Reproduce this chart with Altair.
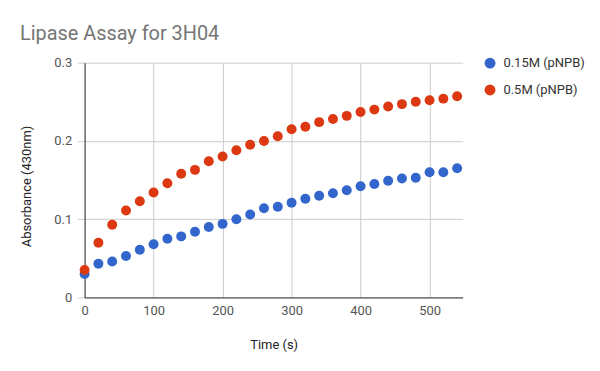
import altair as alt
import pandas as pd

times = [0, 20, 40, 60, 80, 100, 120, 140, 160, 180, 200, 220, 240, 260, 280,
         300, 320, 340, 360, 380, 400, 420, 440, 460, 480, 500, 520, 540]
low_conc = [0.030, 0.043, 0.046, 0.053, 0.061, 0.068, 0.075, 0.078, 0.084, 0.090,
            0.094, 0.100, 0.106, 0.114, 0.116, 0.121, 0.126, 0.130, 0.133, 0.137,
            0.142, 0.145, 0.149, 0.152, 0.153, 0.160, 0.160, 0.165]
high_conc = [0.035, 0.070, 0.093, 0.111, 0.123, 0.134, 0.146, 0.158, 0.163, 0.174,
             0.180, 0.188, 0.195, 0.200, 0.206, 0.215, 0.218, 0.224, 0.228, 0.232,
             0.237, 0.240, 0.244, 0.247, 0.250, 0.252, 0.254, 0.257]
series_names = ["0.15M (pNPB)", "0.5M (pNPB)"]
series_colors = ["#3366CC", "#DC3912"]
x_ticks = [0, 100, 200, 300, 400, 500]
y_ticks = [0, 0.1, 0.2, 0.3]

rows = []
for name, vals in zip(series_names, [low_conc, high_conc]):
    for t, v in zip(times, vals):
        rows.append({"Time": t, "Absorbance": v, "Series": name})
df = pd.DataFrame(rows)

FONT = "Roboto"

chart = alt.Chart(df).mark_point(filled=True, size=100, opacity=1, shape="circle").encode(
    x=alt.X("Time:Q",
            scale=alt.Scale(domain=[0, 548], nice=False, zero=False),
            axis=alt.Axis(values=x_ticks, format="d", title="Time (s)",
                          grid=True, gridColor="#cccccc", ticks=False,
                          domainColor="#333333", labelPadding=7, labelFlush=False,
                          labelColor="#555555", labelFontSize=13, labelFont=FONT,
                          titleFont=FONT, titleFontSize=13, titleFontWeight="normal",
                          titleColor="#222222", titleBaseline="middle", titleY=47)),
    y=alt.Y("Absorbance:Q",
            scale=alt.Scale(domain=[0, 0.3], nice=False),
            axis=alt.Axis(values=y_ticks, format=".1~f", title="Absorbance (430nm)",
                          grid=True, gridColor="#cccccc", ticks=True, tickSize=7,
                          tickColor="#cccccc", domainColor="#333333", labelPadding=6,
                          labelFlush=False,
                          labelColor="#555555", labelFontSize=13, labelFont=FONT,
                          titleFont=FONT, titleFontSize=13, titleFontWeight="normal",
                          titleColor="#222222", titleBaseline="middle", titleAlign="center",
                          titleX=-58, titleY=124, titleAngle=-90)),
    color=alt.Color("Series:N",
                    scale=alt.Scale(domain=series_names, range=series_colors),
                    legend=alt.Legend(title=None, orient="none", legendX=401, legendY=-6,
                                      symbolType="circle", symbolSize=120,
                                      symbolStrokeWidth=0, labelFont=FONT,
                                      labelFontSize=13, labelColor="#333333",
                                      labelOffset=7, rowPadding=13, padding=0)),
).properties(
    width=380,
    height=236,
    title=alt.TitleParams("Lipase Assay for 3H04", anchor="start", frame="group",
                          dx=-65, fontSize=20, font=FONT, color="#757575",
                          fontWeight="normal", offset=13),
    autosize=alt.AutoSizeParams(type="none"),
    padding={"left": 77, "top": 54, "right": 130, "bottom": 70},
).configure_view(stroke=None)

chart.save("out.html", embed_options={"renderer": "svg", "actions": False})
